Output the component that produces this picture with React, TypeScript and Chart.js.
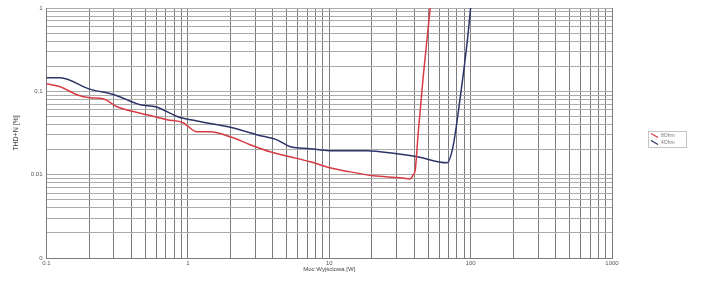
import React, { useEffect, useRef } from "react";
import { Chart, registerables } from "chart.js";
Chart.register(...registerables);

// ---- data ----
const seriesLabels = ["8Ohm", "4Ohm"];
const seriesColors = ["#d83a42", "#2c3468"];

const xRed = [0.1, 0.125, 0.164, 0.203, 0.251, 0.315, 0.39, 0.514, 0.713, 0.925, 1.16, 1.44, 1.99, 2.76, 3.82, 5.29, 7.33, 10.1, 14.1, 20.5, 31.8, 37.4, 39.3, 40.6, 42.6, 46.2, 51.8];
const yRed = [0.123, 0.1135, 0.091, 0.0838, 0.0815, 0.0653, 0.0585, 0.0524, 0.0456, 0.042, 0.0327, 0.0327, 0.0285, 0.0229, 0.0188, 0.0164, 0.0143, 0.0121, 0.0108, 0.0097, 0.0092, 0.0089, 0.01, 0.0115, 0.032, 0.15, 1.0];

const xBlue = [0.1, 0.125, 0.2, 0.3, 0.46, 0.6, 0.84, 1.16, 2, 3.1, 4.3, 5.3, 7.3, 10, 18.5, 30, 42, 68, 75, 84, 95, 100];
const yBlue = [0.146, 0.146, 0.107, 0.091, 0.069, 0.065, 0.05, 0.044, 0.037, 0.03, 0.026, 0.0216, 0.0205, 0.0194, 0.0194, 0.0178, 0.0164, 0.0139, 0.0216, 0.079, 0.42, 1.0];

const xTickValues = [0.1, 1, 10, 100, 1000];
const xTickLabels = ["0.1", "1", "10", "100", "1000"];
const yTickValues = [0.001, 0.01, 0.1, 1];
const yTickLabels = ["0", "0.01", "0.1", "1"];

const xTitle = "Moc Wyjściowa [W]";
const yTitle = "THD+N [%]";

const FONT = "'Liberation Sans', Arial, sans-serif";

function logTicks(min: number, max: number) {
  const out: { value: number }[] = [];
  const e0 = Math.round(Math.log10(min));
  const e1 = Math.round(Math.log10(max));
  for (let e = e0; e < e1; e++) {
    for (let s = 1; s < 10; s++) out.push({ value: s * Math.pow(10, e) });
  }
  out.push({ value: max });
  return out;
}

function labelFor(values: number[], labels: string[]) {
  return (v: any) => {
    const n = Number(v);
    for (let i = 0; i < values.length; i++) {
      if (Math.abs(Math.log10(n) - Math.log10(values[i])) < 1e-6) return labels[i];
    }
    return "";
  };
}

const legendPlugin = {
  id: "boxLegend",
  afterDraw(chart: any) {
    const { ctx, chartArea } = chart;
    const bx = chartArea.right + 36;
    const mid = (chartArea.top + chartArea.bottom) / 2;
    const by = mid - 2;
    const bw = 38;
    const bh = 16;
    ctx.save();
    ctx.strokeStyle = "#c4c4c4";
    ctx.lineWidth = 1;
    ctx.strokeRect(bx + 0.5, by + 0.5, bw, bh);
    ctx.font = `5px ${FONT}`;
    ctx.textBaseline = "middle";
    chart.data.datasets.forEach((ds: any, i: number) => {
      const cy = by + 4.5 + i * 7;
      ctx.strokeStyle = ds.borderColor;
      ctx.lineWidth = 1.2;
      ctx.beginPath();
      ctx.moveTo(bx + 3, cy - 2);
      ctx.lineTo(bx + 10, cy + 2);
      ctx.stroke();
      ctx.fillStyle = "#777";
      ctx.fillText(ds.label, bx + 13, cy);
    });
    ctx.restore();
  },
};

export default function App() {
  const ref = useRef<HTMLCanvasElement | null>(null);
  useEffect(() => {
    if (!ref.current) return;
    const red = xRed.map((x, i) => ({ x, y: yRed[i] }));
    const blue = xBlue.map((x, i) => ({ x, y: yBlue[i] }));
    const chart = new Chart(ref.current, {
      type: "line",
      data: {
        datasets: [
          {
            label: seriesLabels[0],
            data: red,
            borderColor: seriesColors[0],
            borderWidth: 1.5,
            pointRadius: 0,
            cubicInterpolationMode: "monotone",
            fill: false,
          },
          {
            label: seriesLabels[1],
            data: blue,
            borderColor: seriesColors[1],
            borderWidth: 1.5,
            pointRadius: 0,
            cubicInterpolationMode: "monotone",
            fill: false,
          },
        ],
      },
      options: {
        responsive: false,
        animation: false,
        events: [],
        layout: { padding: { left: 0, top: 8, right: 93, bottom: 0 } },
        plugins: { legend: { display: false }, tooltip: { enabled: false } },
        scales: {
          x: {
            type: "logarithmic",
            min: 0.1,
            max: 1000,
            afterBuildTicks: (s: any) => {
              s.ticks = logTicks(0.1, 1000);
            },
            afterFit: (s: any) => {
              s.height = 23;
            },
            grid: { color: "#7c7c7c", lineWidth: 1, drawTicks: false },
            border: { color: "#7c7c7c" },
            ticks: {
              autoSkip: false,
              maxRotation: 0,
              padding: 2,
              color: "#555",
              font: { size: 6, family: FONT },
              callback: labelFor(xTickValues, xTickLabels),
            },
            title: {
              display: true,
              text: xTitle,
              color: "#444",
              font: { size: 6, family: FONT },
              padding: { top: 0, bottom: 8 },
            },
          },
          y: {
            type: "logarithmic",
            min: 0.001,
            max: 1,
            afterBuildTicks: (s: any) => {
              s.ticks = logTicks(0.001, 1);
            },
            afterFit: (s: any) => {
              s.width = 46.5;
            },
            grid: { color: "#ababab", lineWidth: 1, drawTicks: false },
            border: { color: "#7c7c7c" },
            ticks: {
              autoSkip: false,
              padding: 4,
              color: "#555",
              font: { size: 6, family: FONT },
              callback: labelFor(yTickValues, yTickLabels),
            },
            title: {
              display: true,
              text: yTitle,
              color: "#444",
              font: { size: 7, family: FONT },
              padding: { top: 12, bottom: 0 },
            },
          },
        },
      } as any,
      plugins: [legendPlugin],
    });
    return () => chart.destroy();
  }, []);
  return (
    <div style={{ position: "fixed", left: 0, top: 0, width: 705, height: 281, background: "#fff" }}>
      <canvas ref={ref} width={705} height={281} style={{ display: "block" }} />
    </div>
  );
}
